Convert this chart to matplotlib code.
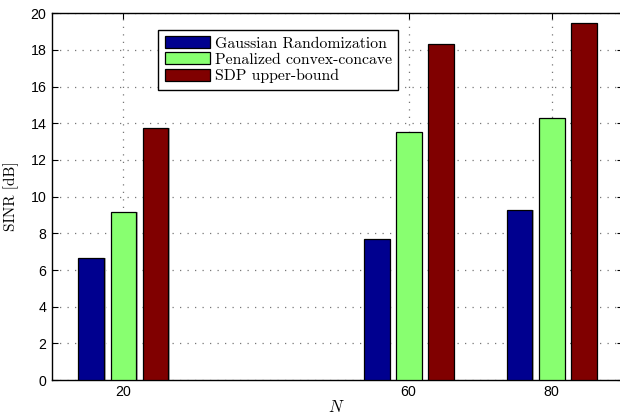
import matplotlib
matplotlib.use("Agg")
import matplotlib.pyplot as plt
import numpy as np

# Antenna counts and achieved SINR per method
N_values = [20, 60, 80]
gaussian_rand = [6.67, 7.67, 9.26]
penalized_ccp = [9.16, 13.55, 14.27]
sdp_bound = [13.76, 18.31, 19.49]

series_names = ["Gaussian Randomization", "Penalized convex-concave", "SDP upper-bound"]
series_colors = ["#00008F", "#88FF70", "#800000"]

plt.rcParams["axes.formatter.use_mathtext"] = True
plt.rcParams["mathtext.fontset"] = "cm"

fig = plt.figure(figsize=(6.2, 4.15), dpi=100)
ax = fig.add_axes([0.0839, 0.0843, 0.921, 0.8836])

x = np.array(N_values, dtype=float)
offset = 4.5
width = 3.6
series = [gaussian_rand, penalized_ccp, sdp_bound]
for k, (vals, name, col) in enumerate(zip(series, series_names, series_colors)):
    pos = x + (k - 1) * offset
    # soft grey shadow on the right side of each bar
    ax.bar(pos + 0.22, vals, width=width, color="#b0b0b0", edgecolor="none", zorder=2)
    ax.bar(pos, vals, width=width, color=col, edgecolor="black", linewidth=0.9,
           label=name, zorder=3)

ax.set_xlim(10, 90)
ax.set_ylim(0, 20)
ax.set_xticks(N_values)
ax.set_yticks(np.arange(0, 21, 2))
ax.grid(True, linestyle=(0, (1, 5)), color="#777777", linewidth=0.9, zorder=0)
ax.set_axisbelow(True)
ax.tick_params(direction="in", top=True, right=True, length=4, width=0.8,
               labelsize=10.2)
for lab in ax.get_xticklabels() + ax.get_yticklabels():
    lab.set_fontfamily("Liberation Sans")
for sp in ax.spines.values():
    sp.set_linewidth(1.0)

ax.set_ylabel("SINR [dB]", family="cmr10", fontsize=11)
ax.yaxis.set_label_coords(-0.058, 0.5)
ax.set_xlabel("$N$", fontsize=12)
ax.xaxis.set_label_coords(0.498, -0.05)

leg = ax.legend(loc="upper left", bbox_to_anchor=(0.186, 0.955),
                prop={"family": "cmr10", "size": 11.3}, frameon=True, fancybox=False,
                edgecolor="black", framealpha=1, handlelength=2.9, handleheight=0.8,
                handletextpad=0.3, labelspacing=0.12, borderpad=0.4, borderaxespad=0)
leg.get_frame().set_linewidth(1.0)

fig.savefig("out.png", dpi=100)
